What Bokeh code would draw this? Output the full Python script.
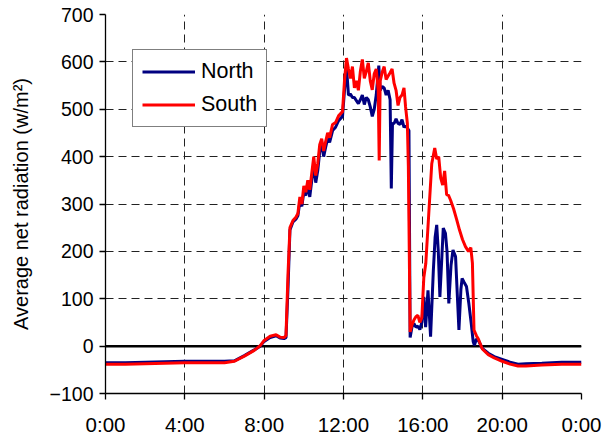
from bokeh.plotting import figure
from bokeh.models import FixedTicker, Span, Legend, LegendItem, Range1d
from bokeh.embed import file_html
from bokeh.resources import INLINE

# ---------------- data (hours of day, W/m2) ----------------
south_t = [0, 1, 2, 3, 4, 5, 6, 6.5, 7.0, 7.5, 7.8, 8.0, 8.3, 8.6, 8.8, 9.0, 9.1, 9.2, 9.3, 9.45,
           9.6, 9.7, 9.8, 9.9, 10.0, 10.1, 10.2, 10.3, 10.4, 10.5, 10.6, 10.7, 10.8, 10.9, 11.0, 11.1,
           11.2, 11.3, 11.45, 11.6, 11.75, 11.95, 12.05, 12.15, 12.25, 12.35, 12.45, 12.55, 12.65,
           12.75, 12.85, 12.95, 13.05, 13.15, 13.25, 13.35, 13.45, 13.55, 13.65, 13.75, 13.8, 13.85,
           13.95, 14.05, 14.15, 14.25, 14.35, 14.45, 14.55, 14.65, 14.75, 14.85, 14.95, 15.05, 15.13,
           15.22, 15.27, 15.36, 15.45, 15.55, 15.65, 15.75, 15.85, 15.95, 16.05, 16.15, 16.3, 16.45,
           16.6, 16.7, 16.8, 16.9, 17.0, 17.1, 17.2, 17.3, 17.4, 17.55, 17.7, 17.85, 18.0, 18.15, 18.3,
           18.42, 18.5, 18.58, 18.7, 18.8, 19.0, 19.3, 19.6, 20.0, 20.4, 20.8, 21.2, 22.0, 23.0, 24.0]
south_v = [-38, -38, -37, -36, -35, -35, -35, -32, -21, -9, 1, 12, 21, 24, 19, 18, 22, 150, 250, 265,
           272, 280, 315, 300, 338, 325, 350, 330, 365, 400, 360, 385, 425, 438, 412, 432,
           450, 440, 468, 472, 486, 495, 560, 608, 585, 565, 590, 545, 560,
           540, 580, 605, 565, 580, 598, 560, 541, 575, 585, 540, 392, 560,
           578, 590, 563, 570, 577, 585, 555, 540, 508, 525, 530, 545, 505,
           470, 380, 30, 45, 55, 62, 65, 50, 60, 145, 175, 280, 385,
           418, 395, 400, 355, 340, 370, 320, 318, 308, 290, 268, 245, 225, 210, 200,
           208, 175, 34, 22, 15, -6, -18, -25, -32, -38, -42, -42, -40, -38, -38]

north_t = [0, 1, 2, 3, 4, 5, 6, 6.5, 7.0, 7.5, 7.8, 8.0, 8.3, 8.6, 8.8, 9.0, 9.1, 9.2, 9.3, 9.45,
           9.6, 9.7, 9.8, 9.9, 10.0, 10.1, 10.2, 10.3, 10.4, 10.5, 10.6, 10.7, 10.8, 10.9, 11.0, 11.1,
           11.2, 11.3, 11.45, 11.6, 11.75, 11.95, 12.05, 12.15, 12.25, 12.35, 12.45, 12.55, 12.65,
           12.75, 12.85, 12.95, 13.05, 13.15, 13.25, 13.35, 13.45, 13.55, 13.65, 13.78, 13.85, 13.95,
           14.05, 14.15, 14.25, 14.35, 14.41, 14.47, 14.55, 14.65, 14.75, 14.85, 14.95, 15.05, 15.13,
           15.22, 15.3, 15.36, 15.45, 15.55, 15.65, 15.75, 15.85, 15.95, 16.05, 16.14, 16.26, 16.39,
           16.53, 16.62, 16.7, 16.78, 16.86, 16.95, 17.03, 17.14, 17.22, 17.31, 17.42, 17.52, 17.65,
           17.82, 17.92, 17.98, 18.08, 18.2, 18.32, 18.44, 18.54, 18.6, 18.7, 18.8, 19.0, 19.3, 19.6,
           20.0, 20.4, 20.8, 21.2, 22.0, 23.0, 24.0]
north_v = [-35, -35, -34, -33, -32, -32, -32, -31, -20, -8, 0, 10, 18, 22, 17, 16, 18, 120, 245, 262,
           268, 275, 305, 295, 325, 318, 340, 315, 350, 385, 345, 370, 410, 425, 400, 420,
           438, 430, 455, 462, 476, 485, 540, 590, 530, 532, 525, 525, 518,
           512, 520, 530, 510, 525, 520, 505, 485, 500, 530, 592, 540, 548,
           545, 530, 540, 520, 333, 470, 470, 480, 470, 468, 478, 462, 465,
           460, 455, 18, 40, 48, 40, 42, 35, 50, 104, 40, 118, 20,
           160, 230, 256, 200, 104, 180, 249, 238, 200, 90, 170, 203, 189,
           34, 120, 143, 135, 126, 90, 48, 9, 2, 15, 12, -5, -15, -22,
           -28, -34, -38, -37, -36, -34, -34]

x_ticks = [0, 4, 8, 12, 16, 20, 24]
x_labels = ["0:00", "4:00", "8:00", "12:00", "16:00", "20:00", "0:00"]
y_ticks = [-100, 0, 100, 200, 300, 400, 500, 600, 700]

FONT = "Liberation Sans"

p = figure(width=603, height=438, output_backend="svg", toolbar_location=None,
           x_range=Range1d(0, 24), y_range=Range1d(-100, 700),
           min_border_left=105, min_border_right=22, min_border_top=14, min_border_bottom=45)
p.outline_line_color = None
p.background_fill_color = "white"

# grid
for g in (p.xgrid, p.ygrid):
    g.grid_line_color = "#222222"
    g.grid_line_width = 1
    g.grid_line_dash = "8 5"
p.xgrid.ticker = FixedTicker(ticks=x_ticks)
p.ygrid.ticker = FixedTicker(ticks=y_ticks)

zero = Span(location=0, dimension="width", line_color="black", line_width=2.5, level="underlay")
p.add_layout(zero)

# axes
p.xaxis.ticker = FixedTicker(ticks=x_ticks)
p.xaxis.major_label_overrides = {t: l for t, l in zip(x_ticks, x_labels)}
p.yaxis.ticker = FixedTicker(ticks=y_ticks)
for ax in (p.xaxis, p.yaxis):
    ax.axis_line_color = "black"
    ax.axis_line_width = 1.3
    ax.major_tick_line_color = "black"
    ax.major_tick_line_width = 1.3
    ax.major_tick_in = 0
    ax.major_tick_out = 6
    ax.minor_tick_line_color = None
    ax.major_label_text_font = FONT
    ax.major_label_text_color = "black"
p.xaxis.major_label_text_font_size = "20.5px"
p.xaxis.major_label_standoff = 13
p.yaxis.major_label_text_font_size = "19.5px"
p.yaxis.major_label_standoff = 6
p.yaxis.axis_label = "Average net radiation (w/m\u00b2)"
p.yaxis.axis_label_text_font = FONT
p.yaxis.axis_label_text_font_size = "20px"
p.yaxis.axis_label_text_font_style = "normal"
p.yaxis.axis_label_text_color = "black"
p.yaxis.axis_label_standoff = 15

rn = p.line(north_t, north_v, line_color="#000080", line_width=3)
rs = p.line(south_t, south_v, line_color="#FF0000", line_width=3)

legend = Legend(items=[LegendItem(label="North", renderers=[rn]),
                       LegendItem(label="South", renderers=[rs])],
                location=(27, 266))
legend.border_line_color = "black"
legend.border_line_width = 1
legend.background_fill_color = "white"
legend.background_fill_alpha = 1
legend.label_text_font = FONT
legend.label_text_font_size = "21.5px"
legend.label_text_color = "black"
legend.glyph_width = 53
legend.glyph_height = 25
legend.label_height = 25
legend.spacing = 8
legend.padding = 9
legend.margin = 0
legend.label_standoff = 6
p.add_layout(legend, "center")

open("out.html", "w").write(file_html(p, INLINE))
